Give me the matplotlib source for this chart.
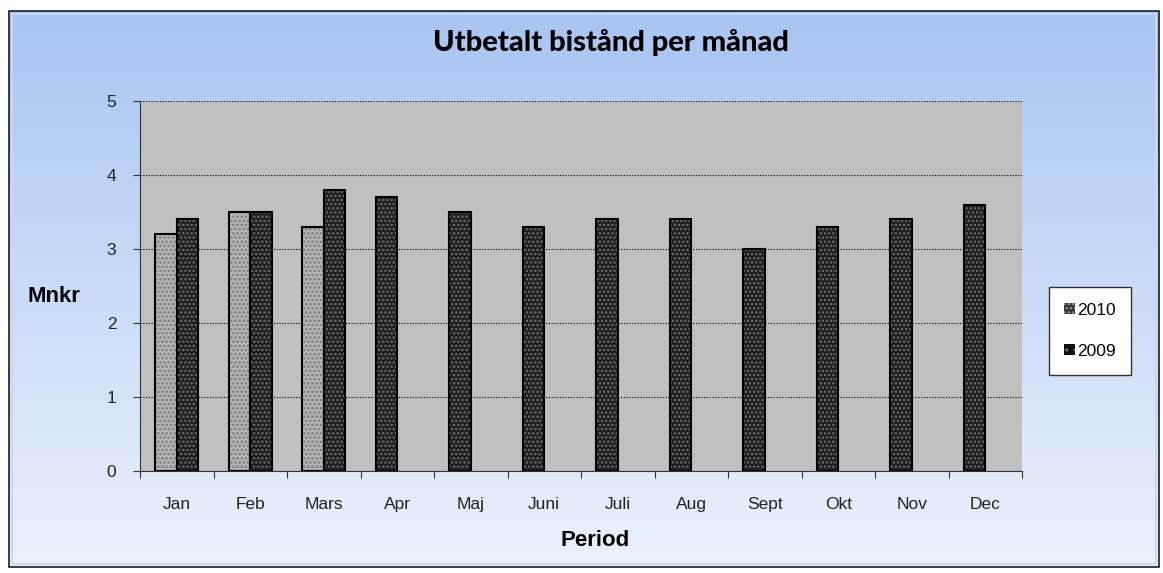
import matplotlib.pyplot as plt
import numpy as np
from matplotlib.patches import Rectangle, Patch

months = ['Jan', 'Feb', 'Mars', 'Apr', 'Maj', 'Juni', 'Juli', 'Aug', 'Sept', 'Okt', 'Nov', 'Dec']
values_2010 = [3.2, 3.5, 3.3]
values_2009 = [3.4, 3.5, 3.8, 3.7, 3.5, 3.3, 3.4, 3.4, 3.0, 3.3, 3.4, 3.6]
yticks = [0, 1, 2, 3, 4, 5]

fig = plt.figure(figsize=(11.63, 5.73), dpi=100)
fig.patch.set_facecolor('white')

# gradient background of the chart area
bg = fig.add_axes([0, 0, 1, 1], zorder=-10)
bg.set_xlim(0, 1163)
bg.set_ylim(573, 0)
bg.axis('off')
grad = np.linspace(0, 1, 256).reshape(-1, 1)
top = np.array([0.66, 0.77, 0.95])
bottom = np.array([0.92, 0.95, 0.99])
img = top + grad[..., None] * (bottom - top)
bg.imshow(img, extent=[9, 1159, 567, 11], aspect='auto')
bg.add_patch(Rectangle((9, 11), 1150, 556, fill=False, edgecolor='#1a1a2a', linewidth=1.2))
bg.add_patch(Rectangle((12, 14), 1144, 550, fill=False, edgecolor='#c8d8f4', linewidth=1.5))

ax = fig.add_axes([140 / 1163, 1 - 471 / 573, 882 / 1163, 370 / 573])
ax.set_facecolor('#c0c0c0')

x = np.arange(len(months))
w = 0.29
plt.rcParams['hatch.linewidth'] = 1.2
# 2010 bars: light, 2009 bars: dark, both dotted
x10 = x[:len(values_2010)] - w / 2
ax.bar(x10, values_2010, w, color='#b4b4b4', edgecolor='#7a7a7a', hatch='....', linewidth=0, zorder=3)
ax.bar(x10, values_2010, w, fill=False, edgecolor='black', linewidth=1.5, zorder=4)
x09 = x - w / 2
x09[:len(values_2010)] = x[:len(values_2010)] + w / 2
ax.bar(x09, values_2009, w, color='#1e1e1e', edgecolor='#6e6e6e', hatch='....', linewidth=0, zorder=3)
ax.bar(x09, values_2009, w, fill=False, edgecolor='black', linewidth=1.5, zorder=4)

ax.set_xlim(-0.5, len(months) - 0.5)
ax.set_ylim(0, 5)
ax.set_yticks(yticks)
ax.yaxis.grid(True, linestyle=(0, (1, 1.5)), color='black', linewidth=0.8)
ax.set_axisbelow(True)

ax.set_xticks(np.arange(-0.5, len(months)), minor=False)
ax.set_xticklabels([])
ax.set_xticks(x, minor=True)
ax.set_xticklabels(months, minor=True)
ax.tick_params(axis='x', which='minor', length=0, pad=19, labelsize=12.5, labelcolor='#222222')
ax.tick_params(axis='x', which='major', length=5, direction='out', color='#333333')
ax.tick_params(axis='y', length=5, direction='out', labelsize=12.5, pad=12, labelcolor='#222222', color='#333333')

for s in ['top', 'right']:
    ax.spines[s].set_visible(False)
ax.spines['left'].set_color('#333333')
ax.spines['bottom'].set_color('#333333')

for lbl in ax.get_xticklabels(minor=True) + ax.get_yticklabels():
    lbl.set_fontfamily('Liberation Sans')

fig.text(611 / 1163, 1 - 43 / 573, 'Utbetalt bistånd per månad', ha='center', va='center',
         fontsize=21, fontweight='black', family='Lato')
fig.text(595 / 1163, 1 - 541 / 573, 'Period', ha='center', va='center',
         fontsize=16, fontweight='bold', family='Liberation Sans')
fig.text(54 / 1163, 1 - 296 / 573, 'Mnkr', ha='center', va='center',
         fontsize=16, fontweight='bold', family='Liberation Sans')

handles = [Patch(facecolor='#303030', edgecolor='#9a9a9a', hatch='....', linewidth=0),
           Patch(facecolor='#101010', edgecolor='#6a6a6a', hatch='..', linewidth=0)]
leg = fig.legend(handles, ['2010', '2009'], loc='center', bbox_to_anchor=(1090 / 1163, 1 - 331 / 573),
                 frameon=True, fancybox=False, edgecolor='#333333', framealpha=1,
                 handlelength=0.6, handleheight=0.6, handletextpad=0.15, labelspacing=1.5,
                 borderpad=0.9, prop={'family': 'Liberation Sans', 'size': 12.5})
leg.get_frame().set_linewidth(1)

fig.savefig('out.png', dpi=100)
